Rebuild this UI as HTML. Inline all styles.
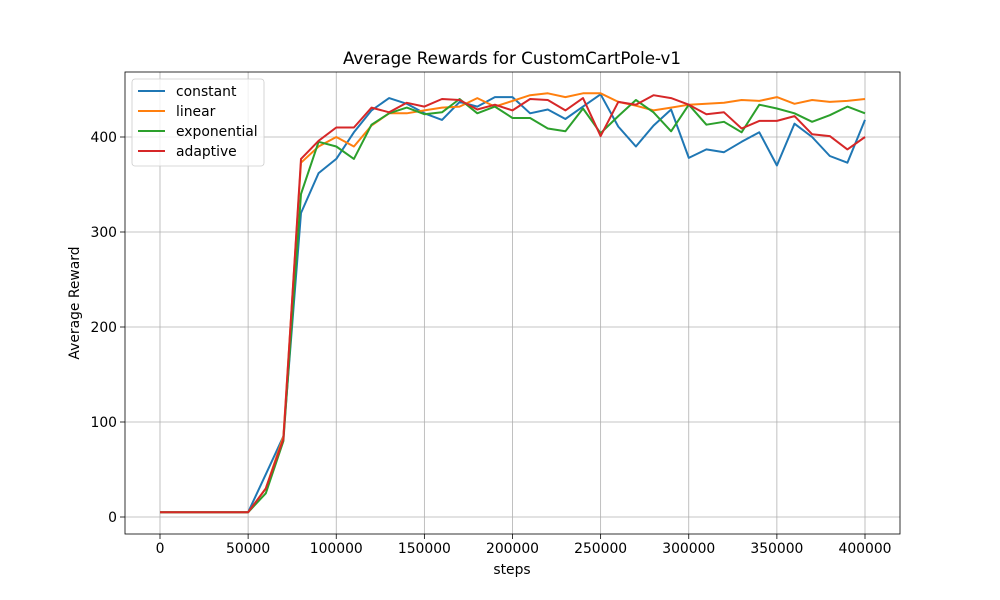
<!DOCTYPE html>
<html><head><meta charset="utf-8"><style>body{margin:0;background:#fff}svg{display:block;font-family:"DejaVu Sans","Liberation Sans",sans-serif}</style></head>
<body>
<svg id="chart" width="1000" height="600" xmlns="http://www.w3.org/2000/svg">
<rect width="1000" height="600" fill="#fff"/>
<g id="grid"></g>
<g id="lines"></g>
<rect x="125" y="72" width="775" height="462" fill="none" stroke="#000" stroke-width="0.8"/>
<g id="ticks" font-size="13.9"></g>
<text x="512" y="64" text-anchor="middle" font-size="16.7">Average Rewards for CustomCartPole-v1</text>
<text x="512" y="574" text-anchor="middle" font-size="13.9">steps</text>
<text x="79" y="303" text-anchor="middle" font-size="13.9" transform="rotate(-90 79 303)">Average Reward</text>
<g id="legend"></g>
</svg>
<script>
const xTicks=[0,50000,100000,150000,200000,250000,300000,350000,400000];
const yTicks=[0,100,200,300,400];
const seriesNames=["constant","linear","exponential","adaptive"];
const colors=["#1f77b4","#ff7f0e","#2ca02c","#d62728"];
const constant=[5,5,5,5,5,5,45,85,320,362,377,405,428,441,435,425,418,437,432,442,442,425,429,419,432,445,411,390,412,429,378,387,384,395,405,370,414,400,380,373,418];
const linear=[5,5,5,5,5,5,30,85,373,390,400,390,412,425,425,428,431,432,441,432,438,444,446,442,446,446,437,433,428,431,434,435,436,439,438,442,435,439,437,438,440];
const exponential=[5,5,5,5,5,5,25,80,340,395,390,377,413,425,431,424,426,440,425,432,420,420,409,406,430,404,422,439,426,406,434,413,416,405,434,430,425,416,423,432,425];
const adaptive=[5,5,5,5,5,5,30,82,377,396,410,410,431,426,436,432,440,439,429,434,428,440,439,428,441,401,437,434,444,441,434,424,426,409,417,417,422,403,401,387,400];
const data=[constant,linear,exponential,adaptive];
const X=v=>160+v*(705/400000), Y=v=>517-v*0.95;
const NS="http://www.w3.org/2000/svg";
function mk(t,a,p){const e=document.createElementNS(NS,t);for(const k in a)e.setAttribute(k,a[k]);p.appendChild(e);return e;}
const grid=document.getElementById('grid'),ticks=document.getElementById('ticks'),lines=document.getElementById('lines'),leg=document.getElementById('legend');
xTicks.forEach(v=>{const x=X(v);
 const g=mk('line',{x1:x,x2:x,y1:72,y2:534,stroke:'#b0b0b0','stroke-width':0.8},grid);
 
 mk('line',{x1:x,x2:x,y1:534,y2:539,stroke:'#000','stroke-width':0.8},ticks);
 const t=mk('text',{x:x,y:553,'text-anchor':'middle'},ticks);t.textContent=v;
 });
yTicks.forEach(v=>{const y=Y(v);
 const g=mk('line',{x1:125,x2:900,y1:y,y2:y,stroke:'#b0b0b0','stroke-width':0.8},grid);
 
 mk('line',{x1:120,x2:125,y1:y,y2:y,stroke:'#000','stroke-width':0.8},ticks);
 const t=mk('text',{x:117,y:y+5,'text-anchor':'end'},ticks);t.textContent=v;
 });
data.forEach((s,i)=>{const pts=s.map((v,j)=>X(j*10000).toFixed(1)+','+Y(v).toFixed(1)).join(' ');
 const p=mk('polyline',{points:pts,fill:'none',stroke:colors[i],'stroke-width':2,'stroke-linejoin':'round'},lines);
 });
const box=mk('rect',{x:132,y:79,width:132,height:87,rx:3,fill:'#fff',stroke:'#ccc','stroke-width':0.8,'fill-opacity':0.8},leg);

seriesNames.forEach((n,i)=>{const y=91+i*20;
 const g=mk('g',{},leg);
 mk('line',{x1:138,x2:165,y1:y,y2:y,stroke:colors[i],'stroke-width':2},g);
 const t=mk('text',{x:176,y:y+5,'font-size':13.9},g);t.textContent=n;});
</script>
</body></html>
